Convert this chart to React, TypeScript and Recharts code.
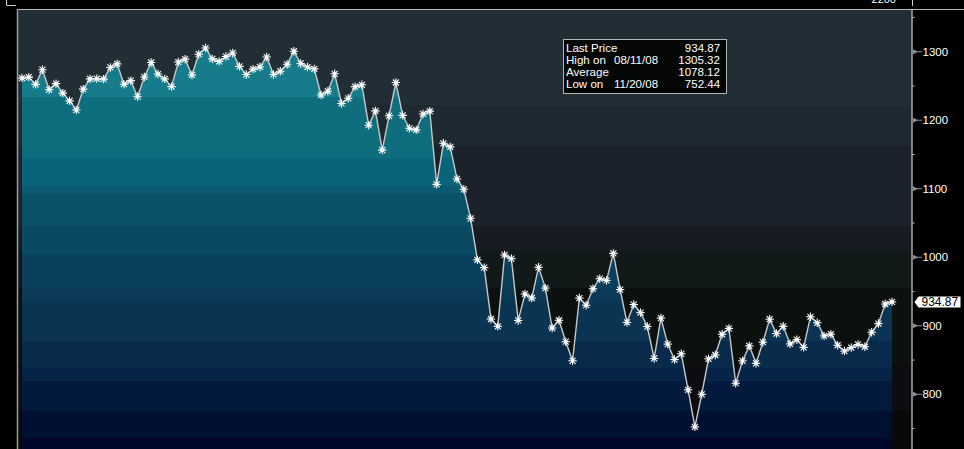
import { AreaChart, Area, XAxis, YAxis, CartesianGrid, ReferenceLine } from "recharts";

const dates = [
  "07/02/08", "07/03/08", "07/07/08", "07/08/08", "07/09/08", "07/10/08", "07/11/08", "07/14/08",
  "07/15/08", "07/16/08", "07/17/08", "07/18/08", "07/21/08", "07/22/08", "07/23/08", "07/24/08",
  "07/25/08", "07/28/08", "07/29/08", "07/30/08", "07/31/08", "08/01/08", "08/04/08", "08/05/08",
  "08/06/08", "08/07/08", "08/08/08", "08/11/08", "08/12/08", "08/13/08", "08/14/08", "08/15/08",
  "08/18/08", "08/19/08", "08/20/08", "08/21/08", "08/22/08", "08/25/08", "08/26/08", "08/27/08",
  "08/28/08", "08/29/08", "09/02/08", "09/03/08", "09/04/08", "09/05/08", "09/08/08", "09/09/08",
  "09/10/08", "09/11/08", "09/12/08", "09/15/08", "09/16/08", "09/17/08", "09/18/08", "09/19/08",
  "09/22/08", "09/23/08", "09/24/08", "09/25/08", "09/26/08", "09/29/08", "09/30/08", "10/01/08",
  "10/02/08", "10/03/08", "10/06/08", "10/07/08", "10/08/08", "10/09/08", "10/10/08", "10/13/08",
  "10/14/08", "10/15/08", "10/16/08", "10/17/08", "10/20/08", "10/21/08", "10/22/08", "10/23/08",
  "10/24/08", "10/27/08", "10/28/08", "10/29/08", "10/30/08", "10/31/08", "11/03/08", "11/04/08",
  "11/05/08", "11/06/08", "11/07/08", "11/10/08", "11/11/08", "11/12/08", "11/13/08", "11/14/08",
  "11/17/08", "11/18/08", "11/19/08", "11/20/08", "11/21/08", "11/24/08", "11/25/08", "11/26/08",
  "11/28/08", "12/01/08", "12/02/08", "12/03/08", "12/04/08", "12/05/08", "12/08/08", "12/09/08",
  "12/10/08", "12/11/08", "12/12/08", "12/15/08", "12/16/08", "12/17/08", "12/18/08", "12/19/08",
  "12/22/08", "12/23/08", "12/24/08", "12/26/08", "12/29/08", "12/30/08", "12/31/08", "01/02/09",
  "01/05/09",
];

const closes = [
  1261.52, 1262.9, 1252.31, 1273.7, 1244.69, 1253.39, 1239.49, 1228.3,
  1214.91, 1245.36, 1260.32, 1260.68, 1260.0, 1277.0, 1282.19, 1252.54,
  1257.76, 1234.37, 1263.2, 1284.26, 1267.38, 1260.31, 1249.01, 1284.88,
  1289.19, 1266.07, 1296.32, 1305.32, 1289.59, 1285.83, 1292.93, 1298.2,
  1278.6, 1266.69, 1274.54, 1277.72, 1292.2, 1266.84, 1271.51, 1281.66,
  1300.68, 1282.83, 1277.58, 1274.98, 1236.83, 1242.31, 1267.79, 1224.51,
  1232.04, 1249.05, 1251.7, 1192.7, 1213.6, 1156.39, 1206.51, 1255.08,
  1207.09, 1188.22, 1185.87, 1209.18, 1213.27, 1106.42, 1166.36, 1161.06,
  1114.28, 1099.23, 1056.89, 996.23, 984.94, 909.92, 899.22, 1003.35,
  998.01, 907.84, 946.43, 940.55, 985.4, 955.05, 896.78, 908.11,
  876.77, 848.92, 940.51, 930.09, 954.09, 968.75, 966.3, 1005.75,
  952.77, 904.88, 930.99, 919.21, 898.95, 852.3, 911.29, 873.29,
  850.75, 859.12, 806.58, 752.44, 800.03, 851.81, 857.39, 887.68,
  896.24, 816.21, 848.81, 870.74, 845.22, 876.07, 909.7, 888.67,
  899.24, 873.59, 879.73, 868.57, 913.18, 904.42, 885.28, 887.88,
  871.63, 863.16, 868.15, 872.8, 869.42, 890.64, 903.25, 931.8,
  934.87,
];

const yTicks = [750, 800, 850, 900, 950, 1000, 1050, 1100, 1150, 1200, 1250, 1300, 1350];

const legendLabels = ["Last Price", "High on", "Average", "Low on"];
const legendDates = ["", "08/11/08", "", "11/20/08"];
const legendValues = ["934.87", "1305.32", "1078.12", "752.44"];

const data = closes.map((close, i) => ({ i, date: dates[i], close }));
const lastClose = closes[closes.length - 1];

const W = 964;
const H = 449;
const FONT = '"Liberation Sans", Arial, sans-serif';

// stepped colour bands, [top y in px, colour]
const areaBands: [number, string][] = [
  [9, "#167c8b"],
  [97, "#0e6e7e"],
  [158, "#0a6479"],
  [186, "#0a5a71"],
  [193, "#095168"],
  [226, "#094962"],
  [255, "#0a405c"],
  [289, "#0b3a58"],
  [302, "#0b3352"],
  [341, "#082b4b"],
  [368, "#052447"],
  [381, "#031a3d"],
  [411, "#010f33"],
  [438, "#00072b"],
];

const bgBands: [number, string][] = [
  [9, "#222e36"],
  [105, "#1f2931"],
  [146, "#1c222b"],
  [226, "#161b24"],
  [250, "#121a19"],
  [288, "#0c110f"],
  [365, "#0d0c11"],
  [411, "#09090a"],
];

function BandGradient({ id, bands }: { id: string; bands: [number, string][] }) {
  return (
    <linearGradient id={id} gradientUnits="userSpaceOnUse" x1={0} y1={0} x2={0} y2={H}>
      {bands.flatMap(([top, color], k) => {
        const from = k === 0 ? 0 : top / H;
        const to = k === bands.length - 1 ? 1 : bands[k + 1][0] / H;
        return [
          <stop key={`${id}-a${k}`} offset={from} stopColor={color} />,
          <stop key={`${id}-b${k}`} offset={to} stopColor={color} />,
        ];
      })}
    </linearGradient>
  );
}

function StarDot(props: any) {
  const { cx, cy, index } = props;
  if (cx == null || cy == null) return <g key={`dot-${index}`} />;
  const r = 4.2;
  const d = 3;
  return (
    <g key={`dot-${index}`} stroke="#ffffff" strokeWidth={1.1}>
      <line x1={cx - r} y1={cy} x2={cx + r} y2={cy} />
      <line x1={cx} y1={cy - r} x2={cx} y2={cy + r} />
      <line x1={cx - d} y1={cy - d} x2={cx + d} y2={cy + d} />
      <line x1={cx - d} y1={cy + d} x2={cx + d} y2={cy - d} />
      <circle cx={cx} cy={cy} r={1.8} fill="#ffffff" stroke="none" />
    </g>
  );
}

function PriceTick(props: any) {
  const { x, y, payload } = props;
  const v = payload.value;
  if (v % 100 !== 0) {
    return <line x1={x + 0.5} x2={x + 2.5} y1={y} y2={y} stroke="#c8c8c8" strokeWidth={1} />;
  }
  return (
    <g>
      <path d={`M${x + 1},${y - 2.5} L${x + 6},${y} L${x + 1},${y + 2.5} Z`} fill="#8e8e8e" />
      <line x1={x + 1} x2={x + 10} y1={y} y2={y} stroke="#8e8e8e" strokeWidth={1} />
      <text x={x + 10.5} y={y} dy="0.36em" fill="#ffffff" fontSize={11.5} fontFamily={FONT}>
        {v}
      </text>
    </g>
  );
}

function LastTag(props: any) {
  const { viewBox } = props;
  if (!viewBox) return null;
  const x = viewBox.x + viewBox.width + 2.5;
  const y = viewBox.y;
  return (
    <g>
      <path
        d={`M${x},${y} L${x + 4},${y - 5.5} L${x + 46},${y - 5.5} L${x + 46},${y + 5.5} L${x + 4},${y + 5.5} Z`}
        fill="#ffffff"
      />
      <text x={x + 7} y={y} dy="0.36em" fill="#000000" fontSize={12} fontFamily={FONT}>
        {lastClose.toFixed(2)}
      </text>
    </g>
  );
}

const legendText = {
  position: "absolute" as const,
  top: 0,
  display: "inline-block",
  transform: "scaleX(1.1)",
};

export default function App() {
  return (
    <div
      style={{
        position: "fixed",
        left: 0,
        top: 0,
        width: W,
        height: H,
        background: "#000000",
        overflow: "hidden",
      }}
    >
      <AreaChart width={W} height={H} data={data} margin={{ top: 9.5, right: 0, bottom: 0, left: 18 }}>
        <defs>
          <BandGradient id="areaBands" bands={areaBands} />
          <BandGradient id="bgBands" bands={bgBands} />
        </defs>
        <CartesianGrid fill="url(#bgBands)" horizontal={false} vertical={false} />
        <XAxis dataKey="i" type="number" domain={[-0.59, 130.94]} allowDataOverflow hide />
        <YAxis
          orientation="right"
          width={52}
          type="number"
          domain={[720.2, 1361.6]}
          allowDataOverflow
          ticks={yTicks}
          interval={0}
          tick={<PriceTick />}
          tickLine={false}
          tickSize={0}
          tickMargin={0}
          axisLine={{ stroke: "#a9a9a9", strokeWidth: 1.5 }}
        />
        <Area
          type="linear"
          dataKey="close"
          stroke="#c8c8c8"
          strokeWidth={1.4}
          fill="url(#areaBands)"
          fillOpacity={1}
          dot={(p: any) => <StarDot {...p} />}
          activeDot={false}
          isAnimationActive={false}
        />
        <ReferenceLine y={lastClose} stroke="none" label={<LastTag />} />
      </AreaChart>

      <svg
        width={W}
        height={H}
        style={{ position: "absolute", left: 0, top: 0, pointerEvents: "none" }}
      >
        <line x1={6.5} x2={6.5} y1={0} y2={5} stroke="#d0d0d0" strokeWidth={1} />
        <line x1={6.5} x2={16} y1={5.5} y2={5.5} stroke="#d0d0d0" strokeWidth={1} />
        <line x1={912.5} x2={912.5} y1={0} y2={6} stroke="#d0d0d0" strokeWidth={1} />
        <text x={896} y={2.5} textAnchor="end" fill="#ffffff" fontSize={11} fontFamily={FONT}>
          2200
        </text>
        <line x1={17} x2={W} y1={9.5} y2={9.5} stroke="#b8b8b8" strokeWidth={1.2} />
        <line x1={17.5} x2={17.5} y1={9} y2={H} stroke="#9c9c9c" strokeWidth={1.5} />
      </svg>

      <div
        style={{
          position: "absolute",
          left: 563,
          top: 39,
          width: 164,
          height: 55,
          boxSizing: "border-box",
          border: "1px solid #b4b4b4",
          background: "#050707",
        }}
      />
      {legendLabels.map((label, k) => (
        <div
          key={label}
          style={{
            position: "absolute",
            left: 566,
            top: 42 + k * 12.1,
            width: 155,
            height: 12,
            lineHeight: "12px",
            fontSize: 10.5,
            fontFamily: FONT,
            color: "#ffffff",
            whiteSpace: "nowrap",
          }}
        >
          <span style={{ ...legendText, left: 0, transformOrigin: "left center" }}>{label}</span>
          <span style={{ ...legendText, left: 48, transformOrigin: "left center" }}>
            {legendDates[k]}
          </span>
          <span style={{ ...legendText, right: 1, transformOrigin: "right center" }}>
            {legendValues[k]}
          </span>
        </div>
      ))}
    </div>
  );
}
